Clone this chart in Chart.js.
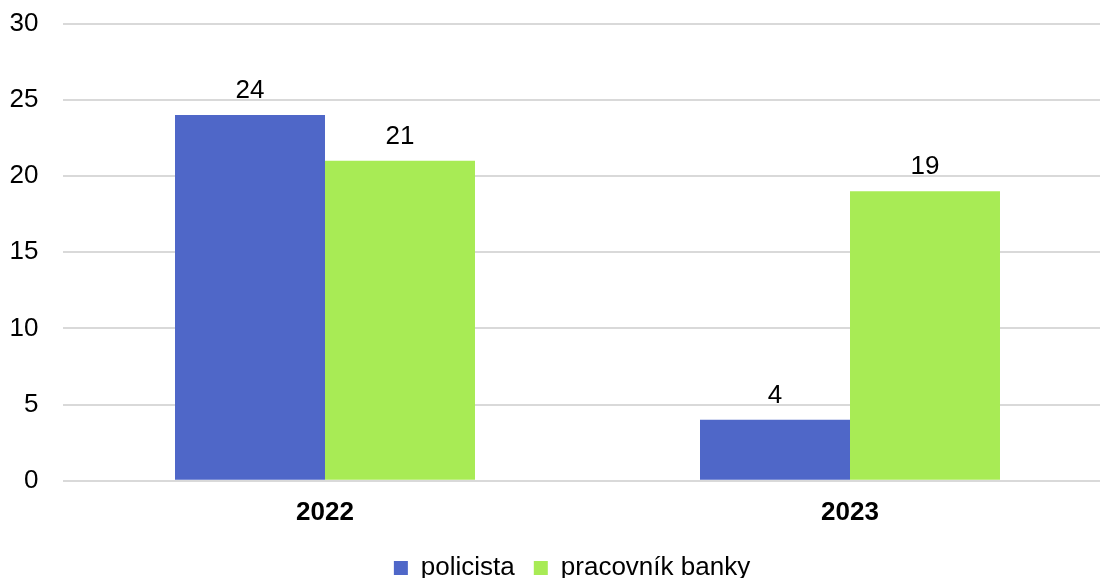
<!DOCTYPE html>
<html>
<head>
<meta charset="utf-8">
<script src="https://cdn.jsdelivr.net/npm/chart.js@4"></script>
<style>
  html, body { margin: 0; padding: 0; background: #fff; overflow: hidden; }
  canvas { display: block; margin-top: -16px; }
</style>
</head>
<body>
<canvas id="chart" width="1142" height="611"></canvas>
<script>
const years = ["2022", "2023"];
const policista = [24, 4];
const pracovnikBanky = [21, 19];
const yTicks = [0, 5, 10, 15, 20, 25, 30];

const FONT = "'Liberation Sans', Arial, sans-serif";
const SIZE = 26;

// value labels above every bar
const barValues = {
  id: "barValues",
  afterDatasetsDraw(chart) {
    const ctx = chart.ctx;
    ctx.save();
    ctx.font = SIZE + "px " + FONT;
    ctx.fillStyle = "#000";
    ctx.textAlign = "center";
    ctx.textBaseline = "alphabetic";
    chart.data.datasets.forEach((ds, i) => {
      chart.getDatasetMeta(i).data.forEach((bar, j) => {
        ctx.fillText(String(ds.data[j]), bar.x, bar.y - 17);
      });
    });
    ctx.restore();
  }
};

// legend sits a bit right of the canvas centre
const legendShift = {
  id: "legendShift",
  afterLayout(chart) {
    if (chart.legend) chart.legend.left += 31.5;
  }
};

new Chart(document.getElementById("chart"), {
  type: "bar",
  data: {
    labels: years,
    datasets: [
      { label: "policista", data: policista, backgroundColor: "#4F67C8" },
      { label: "pracovník banky", data: pracovnikBanky, backgroundColor: "#A8EB55" }
    ]
  },
  options: {
    responsive: false,
    animation: false,
    layout: { padding: { top: 0, left: 0, right: 29.5, bottom: 4 } },
    datasets: { bar: { categoryPercentage: 0.5714, barPercentage: 1, borderWidth: 0 } },
    scales: {
      x: {
        grid: { display: false },
        border: { display: false },
        ticks: { color: "#000", padding: 8, font: { family: FONT, size: SIZE, weight: "bold" } }
      },
      y: {
        min: 0,
        max: 30,
        afterBuildTicks(axis) { axis.ticks = yTicks.map(v => ({ value: v })); },
        afterFit(axis) { axis.width = 62.5; },
        grid: { color: "#d9d9d9", lineWidth: 2, drawTicks: false },
        border: { display: false },
        ticks: { color: "#000", padding: 24, font: { family: FONT, size: SIZE } }
      }
    },
    plugins: {
      legend: {
        position: "bottom",
        labels: {
          boxWidth: 14,
          boxHeight: 14,
          padding: 19,
          color: "#000",
          font: { family: FONT, size: SIZE }
        }
      },
      tooltip: { enabled: false }
    }
  },
  plugins: [barValues, legendShift]
});
</script>
</body>
</html>
